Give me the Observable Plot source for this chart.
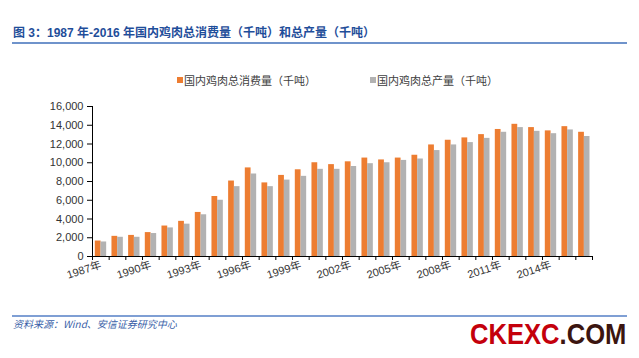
<!DOCTYPE html>
<html>
<head>
<meta charset="utf-8">
<script src="https://cdn.jsdelivr.net/npm/d3@7"></script>
<script src="https://cdn.jsdelivr.net/npm/@observablehq/plot@0.6"></script>
<style>
  html, body { margin: 0; padding: 0; background: #fff; }
  #wrap { position: relative; width: 639px; height: 358px; overflow: hidden; font-family: "Liberation Sans", Arial, "Noto Sans CJK SC", sans-serif; }
  #title { position: absolute; left: 13px; top: 25px; font-size: 12px; line-height: 16px; font-weight: bold; color: #1F4E9A; font-family: "Liberation Sans", "Noto Sans CJK SC", sans-serif; white-space: nowrap; }
  #tline { position: absolute; left: 12px; top: 42px; width: 615px; height: 2px; background: #6F93CB; }
  #legend { position: absolute; top: 73px; left: 0; font-size: 11px; line-height: 14px; color: #404040; font-family: "Noto Sans CJK SC", sans-serif; }
  .li { position: absolute; white-space: nowrap; }
  .sw { position: absolute; width: 6px; height: 6px; top: 4px; }
  #chart { position: absolute; left: 0; top: 90px; }
  #fline { position: absolute; left: 12px; top: 315px; width: 615px; height: 1.5px; background: #7F9FD4; }
  #source { position: absolute; left: 13px; top: 317px; font-size: 10px; line-height: 13px; font-style: italic; color: #3A5FA8; font-family: "Noto Sans CJK SC", sans-serif; white-space: nowrap; }
  #wm { position: absolute; left: 470px; top: 319px; font-size: 30px; line-height: 30px; font-weight: bold; font-family: "Liberation Sans", Arial, sans-serif; transform: scaleX(0.853); transform-origin: left top; white-space: nowrap; }
</style>
</head>
<body>
<div id="wrap">
  <div id="title">图 3：1987 年-2016 年国内鸡肉总消费量（千吨）和总产量（千吨）</div>
  <div id="tline"></div>
  <div id="legend"></div>
  <div id="chart"></div>
  <div id="fline"></div>
  <div id="source">资料来源：Wind、安信证券研究中心</div>
  <div id="wm"><span style="color:#C4000C">CKEXC</span><span style="color:#3B1510">.COM</span></div>
</div>
<script>
const years = [1987,1988,1989,1990,1991,1992,1993,1994,1995,1996,1997,1998,1999,2000,2001,2002,2003,2004,2005,2006,2007,2008,2009,2010,2011,2012,2013,2014,2015,2016];
const consumption = [1650,2150,2250,2550,3250,3750,4700,6400,8050,9450,7850,8650,9250,10000,9800,10100,10500,10300,10500,10800,11900,12400,12650,13000,13550,14100,13750,13400,13850,13250];
const production = [1550,2050,2050,2450,3050,3450,4450,6000,7450,8800,7450,8150,8550,9300,9300,9600,9900,10000,10250,10400,11300,11900,12150,12600,13250,13750,13350,13100,13500,12800];
const seriesNames = ["国内鸡肉总消费量（千吨）", "国内鸡肉总产量（千吨）"];
const seriesColors = ["#ED7D31", "#B2B2B2"];
const yTicks = [0,2000,4000,6000,8000,10000,12000,14000,16000];
const xLabelYears = [1987,1990,1993,1996,1999,2002,2005,2008,2011,2014];

const data = years.map((y, i) => ({year: y, consumption: consumption[i], production: production[i]}));
const edges = [years[0] - 0.5, ...years.map(y => y + 0.5)];

// legend
const legend = document.getElementById("legend");
const legendPos = [177, 370];
seriesNames.forEach((name, i) => {
  const item = document.createElement("div");
  item.className = "li";
  item.style.left = legendPos[i] + "px";
  item.innerHTML = `<span class="sw" style="left:0;background:${seriesColors[i]}"></span><span style="margin-left:7px">${name}</span>`;
  legend.appendChild(item);
});

const chart = Plot.plot({
  width: 639,
  height: 200,
  marginLeft: 92,
  marginRight: 47,
  marginTop: 16,
  marginBottom: 34,
  style: {fontFamily: '"Liberation Sans", Arial, "Noto Sans CJK SC", sans-serif', fontSize: "11px", color: "#333", background: "transparent"},
  x: {type: "linear", domain: [years[0] - 0.5, years[years.length - 1] + 0.5]},
  y: {domain: [0, 16000]},
  marks: [
    Plot.rectY(data, {x1: d => d.year - 0.5, x2: d => d.year + 0.5, y: "consumption", fill: seriesColors[0], insetLeft: 2.8, insetRight: 8.1}),
    Plot.rectY(data, {x1: d => d.year - 0.5, x2: d => d.year + 0.5, y: "production", fill: seriesColors[1], insetLeft: 8.5, insetRight: 2.5}),
    Plot.axisY({ticks: yTicks, tickFormat: d3.format(","), tickSize: 5, tickPadding: 4, stroke: "#000", fill: "#333", label: null}),
    Plot.axisX({ticks: edges, tickSize: 4, tickFormat: () => "", stroke: "#000", label: null}),
    Plot.axisX({ticks: xLabelYears, tickSize: 0, tickPadding: 8, tickRotate: -18, tickFormat: d => d + "年", fill: "#333", label: null}),
    Plot.ruleX([edges[0]], {y1: 0, y2: 16000, stroke: "#000"}),
    Plot.ruleY([0], {stroke: "#000"})
  ]
});
document.getElementById("chart").appendChild(chart);
</script>
</body>
</html>
